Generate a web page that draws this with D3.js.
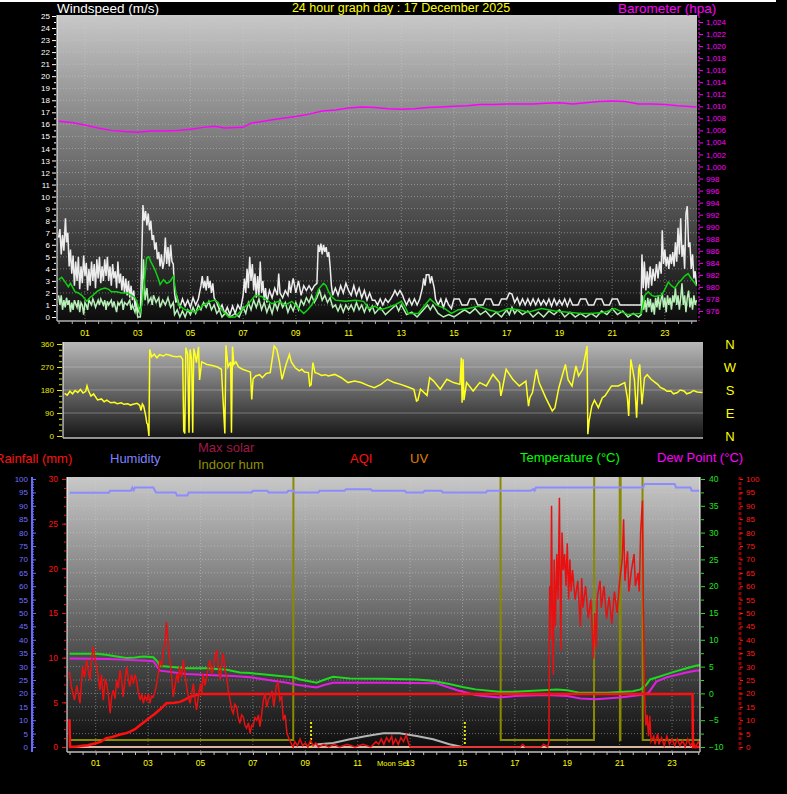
<!DOCTYPE html>
<html>
<head>
<meta charset="utf-8">
<script src="https://cdn.jsdelivr.net/npm/d3@7"></script>
<style>
  html, body { margin: 0; padding: 0; background: #000; }
  svg { display: block; }
  text { font-family: "Liberation Sans", Arial, sans-serif; }
</style>
</head>
<body>
<svg id="chart" width="787" height="794"></svg>
<script>
// ---------- data (hour of day, value) ----------
const hourLabels = ["01","03","05","07","09","11","13","15","17","19","21","23"];
const labelHours = [1,3,5,7,9,11,13,15,17,19,21,23];
const dirLetters = ["N","W","S","E","N"];

const baro = [[0,1007.5],[0.5,1007.3],[1,1006.9],[1.5,1006.4],[2,1006.0],[2.5,1005.8],[3,1005.7],[3.5,1005.9],[4,1005.9],[4.5,1006.0],[5,1006.2],[5.5,1006.5],[5.9,1006.7],[6.3,1006.4],[7,1006.5],[7.3,1007.2],[8,1007.7],[8.5,1008.0],[9,1008.3],[9.5,1008.7],[10,1009.2],[10.5,1009.4],[11,1009.7],[11.5,1009.9],[12,1009.8],[12.5,1009.6],[13,1009.5],[13.5,1009.6],[14,1009.8],[14.5,1009.9],[15,1010.0],[15.5,1010.1],[16,1010.3],[16.5,1010.3],[17,1010.4],[17.5,1010.4],[18,1010.4],[18.5,1010.5],[19,1010.6],[19.5,1010.4],[20,1010.6],[20.5,1010.8],[21,1010.9],[21.5,1010.8],[22,1010.4],[22.5,1010.4],[23,1010.3],[23.5,1010.1],[24.2,1009.9]];

const gust = [[0,6.6],[0.05,7.3],[0.1,5.2],[0.15,6.8],[0.2,5.5],[0.26,8.2],[0.3,6.2],[0.35,7.0],[0.4,4.2],[0.45,5.6],[0.5,3.6],[0.55,5.1],[0.6,2.6],[0.65,4.6],[0.7,3.0],[0.75,5.0],[0.8,2.3],[0.85,4.2],[0.9,2.8],[0.95,5.1],[1.0,3.4],[1.05,4.5],[1.1,2.2],[1.15,4.0],[1.2,2.6],[1.25,4.6],[1.3,3.0],[1.35,4.4],[1.4,2.4],[1.45,4.8],[1.5,3.2],[1.55,5.0],[1.6,2.8],[1.65,4.2],[1.7,3.0],[1.75,4.8],[1.8,3.4],[1.85,5.0],[1.9,3.0],[1.95,4.2],[2.0,2.6],[2.05,4.4],[2.1,3.2],[2.15,3.8],[2.2,2.4],[2.25,4.6],[2.3,2.8],[2.35,3.6],[2.4,2.2],[2.45,3.4],[2.5,2.0],[2.55,3.2],[2.6,1.8],[2.65,3.0],[2.7,1.6],[2.75,2.6],[2.8,1.4],[2.85,2.2],[2.9,0.8],[2.95,1.4],[3.0,0.3],[3.05,0.8],[3.1,0.2],[3.15,4.5],[3.2,9.3],[3.25,8.0],[3.3,8.8],[3.35,7.6],[3.4,8.6],[3.45,7.2],[3.5,8.0],[3.55,6.4],[3.6,6.8],[3.65,5.6],[3.7,6.2],[3.75,4.8],[3.8,5.4],[3.85,4.2],[3.9,5.2],[3.95,4.0],[4.0,4.6],[4.05,6.6],[4.1,4.4],[4.15,5.8],[4.2,4.2],[4.25,6.0],[4.3,4.6],[4.35,4.4],[4.4,2.0],[4.45,1.2],[4.5,1.6],[4.6,0.8],[4.7,1.5],[4.8,0.9],[4.9,1.4],[5.0,0.8],[5.1,1.6],[5.2,1.0],[5.3,1.5],[5.4,2.6],[5.45,3.4],[5.5,2.4],[5.55,3.0],[5.6,2.2],[5.65,3.4],[5.7,2.4],[5.75,3.0],[5.8,2.0],[5.85,2.8],[5.9,1.6],[6.0,1.2],[6.1,0.6],[6.2,1.0],[6.3,0.3],[6.4,0.8],[6.5,0.2],[6.6,0.9],[6.7,0.3],[6.8,1.0],[6.9,0.6],[7.0,1.8],[7.05,3.2],[7.1,2.0],[7.15,4.0],[7.2,2.4],[7.25,5.0],[7.3,3.0],[7.35,4.4],[7.4,2.2],[7.45,3.6],[7.5,1.6],[7.55,3.4],[7.6,1.8],[7.65,4.6],[7.7,2.0],[7.75,3.0],[7.8,1.4],[7.85,2.4],[7.9,1.2],[8.0,2.2],[8.1,1.6],[8.2,2.4],[8.3,1.8],[8.35,3.6],[8.4,2.0],[8.5,1.6],[8.6,2.2],[8.7,1.8],[8.75,3.0],[8.8,2.0],[8.9,3.2],[9.0,2.0],[9.1,3.0],[9.2,1.8],[9.3,2.6],[9.4,2.2],[9.5,2.6],[9.6,2.2],[9.7,2.6],[9.8,2.8],[9.85,6.0],[9.9,5.4],[9.95,6.1],[10.0,5.2],[10.05,6.0],[10.1,5.4],[10.15,5.8],[10.2,5.0],[10.25,5.4],[10.3,4.2],[10.35,2.6],[10.4,1.8],[10.5,2.4],[10.6,1.8],[10.7,2.6],[10.8,2.0],[10.9,2.8],[11.0,2.2],[11.1,1.8],[11.2,2.6],[11.3,1.8],[11.4,2.4],[11.5,1.6],[11.6,2.2],[11.7,1.4],[11.8,2.0],[11.9,1.4],[12.0,1.4],[12.1,1.0],[12.2,1.5],[12.3,1.0],[12.4,1.5],[12.5,1.2],[12.6,1.5],[12.7,1.9],[12.76,2.2],[12.85,1.8],[12.95,2.2],[13.05,1.8],[13.1,1.5],[13.2,1.0],[13.3,1.5],[13.4,1.0],[13.5,1.5],[13.6,1.0],[13.7,1.5],[13.8,2.4],[13.85,3.2],[13.9,2.6],[13.95,3.5],[14.05,3.5],[14.1,2.8],[14.15,3.4],[14.25,2.4],[14.3,1.5],[14.4,1.0],[14.5,1.5],[14.6,0.8],[14.7,1.5],[14.8,1.0],[14.9,0.7],[15.0,1.5],[15.2,1.5],[15.3,1.0],[15.5,1.0],[15.6,1.5],[15.8,1.5],[15.9,1.0],[16.1,1.0],[16.2,1.5],[16.4,1.5],[16.5,1.0],[16.7,1.0],[16.8,1.5],[17.0,1.5],[17.1,2.0],[17.2,1.9],[17.3,1.2],[17.4,1.6],[17.5,1.0],[17.6,1.5],[17.7,1.0],[17.8,1.5],[17.9,1.0],[18.0,1.5],[18.1,1.0],[18.2,1.5],[18.3,1.0],[18.4,1.4],[18.5,1.0],[18.6,1.5],[18.7,0.9],[18.8,1.5],[18.9,1.0],[19.0,1.4],[19.1,1.0],[19.2,1.5],[19.3,0.9],[19.4,1.5],[19.5,1.0],[19.7,1.0],[19.8,1.5],[20.0,1.5],[20.1,1.0],[20.3,1.0],[20.4,1.5],[20.6,1.5],[20.7,1.0],[20.9,1.0],[21.0,1.5],[21.2,1.5],[21.3,1.0],[22.1,1.0],[22.13,5.2],[22.18,2.4],[22.22,4.6],[22.28,2.2],[22.33,3.8],[22.38,2.4],[22.44,4.2],[22.5,2.6],[22.55,4.0],[22.62,3.0],[22.68,4.4],[22.74,3.2],[22.8,4.6],[22.86,3.6],[22.9,7.2],[22.95,4.4],[23.0,5.6],[23.05,4.2],[23.1,5.0],[23.15,4.0],[23.2,5.2],[23.25,4.4],[23.3,5.4],[23.35,4.2],[23.4,6.2],[23.45,4.6],[23.5,7.4],[23.55,5.2],[23.6,8.2],[23.65,5.0],[23.7,6.0],[23.75,4.0],[23.8,8.6],[23.85,9.2],[23.9,5.8],[23.95,6.2],[24.0,4.0],[24.05,5.2],[24.1,3.2],[24.15,3.8],[24.2,2.6]];

const speed = [[0,1.8],[0.05,1.0],[0.1,1.8],[0.15,0.6],[0.2,1.4],[0.25,0.8],[0.3,1.6],[0.35,1.0],[0.4,1.4],[0.45,0.4],[0.5,1.2],[0.55,0.6],[0.6,1.4],[0.7,0.8],[0.75,1.4],[0.8,0.4],[0.85,1.2],[0.9,1.0],[0.95,0.2],[1.0,1.2],[1.05,1.0],[1.1,0.6],[1.15,1.4],[1.25,1.0],[1.3,1.5],[1.35,1.2],[1.4,0.8],[1.5,1.4],[1.55,1.0],[1.6,1.5],[1.7,1.0],[1.75,1.4],[1.8,0.6],[1.85,1.3],[1.9,1.0],[2.0,1.4],[2.05,0.8],[2.1,1.3],[2.2,0.4],[2.25,1.2],[2.3,1.0],[2.4,1.4],[2.45,0.6],[2.5,1.2],[2.6,1.0],[2.7,1.4],[2.75,0.6],[2.8,1.0],[2.9,0.4],[2.95,1.0],[3.0,0.0],[3.1,0.0],[3.15,1.2],[3.22,4.8],[3.28,1.4],[3.35,2.4],[3.4,1.2],[3.5,1.6],[3.55,1.0],[3.6,1.8],[3.7,1.2],[3.8,1.6],[3.85,0.8],[3.95,1.4],[4.05,1.0],[4.15,1.6],[4.25,0.8],[4.35,1.2],[4.4,0.2],[4.5,0.6],[4.6,0.0],[4.7,0.5],[4.8,0.0],[4.9,0.6],[5.0,0.2],[5.1,0.8],[5.2,0.3],[5.3,1.0],[5.4,0.6],[5.5,1.2],[5.6,0.8],[5.7,1.3],[5.8,0.6],[5.9,1.0],[6.0,0.3],[6.1,0.6],[6.2,0.0],[6.35,0.4],[6.5,0.0],[6.7,0.3],[6.85,0.0],[7.0,0.8],[7.1,0.3],[7.2,1.2],[7.3,0.6],[7.4,1.4],[7.5,0.8],[7.6,1.5],[7.7,0.6],[7.8,1.2],[7.9,0.4],[8.0,1.0],[8.1,0.3],[8.2,1.2],[8.3,0.6],[8.4,1.4],[8.5,0.8],[8.6,1.2],[8.7,0.4],[8.8,1.0],[8.9,0.5],[9.0,1.2],[9.1,0.6],[9.2,1.4],[9.3,1.0],[9.4,1.6],[9.5,1.2],[9.6,1.8],[9.7,1.2],[9.8,1.6],[9.9,2.2],[10.0,1.4],[10.1,1.8],[10.2,1.2],[10.3,1.6],[10.4,0.8],[10.5,1.0],[10.6,0.5],[10.7,1.0],[10.8,0.4],[10.9,1.0],[11.0,0.6],[11.1,1.0],[11.2,0.5],[11.3,1.2],[11.4,0.6],[11.5,1.0],[11.6,0.4],[11.7,1.0],[11.8,0.5],[11.9,0.9],[12.0,0.3],[12.2,0.8],[12.4,0.2],[12.6,0.6],[12.8,1.0],[12.9,0.5],[13.0,1.0],[13.2,0.2],[13.4,0.4],[13.6,0.0],[13.8,0.5],[14.0,1.0],[14.1,0.6],[14.2,1.0],[14.4,0.3],[14.6,0.0],[14.8,0.2],[15.0,0.0],[15.2,0.3],[15.4,0.6],[15.6,0.3],[15.8,0.7],[16.0,0.2],[16.2,0.5],[16.4,0.0],[16.6,0.4],[16.8,0.0],[17.0,0.6],[17.1,0.2],[17.2,0.8],[17.3,0.3],[17.4,0.6],[17.6,0.2],[17.8,0.5],[18.0,0.0],[18.2,0.4],[18.4,0.0],[18.6,0.5],[18.8,0.2],[19.0,0.6],[19.2,0.0],[19.4,0.4],[19.6,0.0],[19.8,0.3],[20.0,0.0],[20.2,0.3],[20.4,0.0],[20.6,0.5],[20.8,0.2],[21.0,0.7],[21.2,0.2],[21.4,0.5],[21.6,0.0],[21.8,0.3],[22.0,0.0],[22.1,0.2],[22.15,1.8],[22.2,0.6],[22.25,1.4],[22.3,0.4],[22.35,1.6],[22.4,0.8],[22.45,1.5],[22.5,0.4],[22.55,1.2],[22.6,0.2],[22.65,1.6],[22.7,0.8],[22.75,1.8],[22.8,0.6],[22.85,1.4],[22.9,2.0],[22.95,0.8],[23.0,1.6],[23.05,0.4],[23.1,1.8],[23.15,1.0],[23.2,1.6],[23.25,0.6],[23.3,1.8],[23.35,1.2],[23.4,2.4],[23.45,1.0],[23.5,1.8],[23.55,0.6],[23.6,1.6],[23.65,2.8],[23.7,1.0],[23.75,1.8],[23.8,0.4],[23.85,1.6],[23.9,2.2],[23.95,0.8],[24.0,1.6],[24.05,0.6],[24.1,1.8],[24.15,1.0],[24.2,1.4]];

const avgWind = [[0,3.1],[0.12,3.3],[0.25,2.9],[0.37,2.5],[0.45,2.8],[0.55,2.4],[0.62,2.1],[0.75,2.0],[0.88,1.8],[1.0,1.5],[1.07,1.3],[1.18,1.6],[1.3,1.8],[1.45,2.1],[1.6,2.3],[1.76,2.4],[1.9,2.3],[2.0,2.1],[2.2,2.1],[2.4,2.0],[2.6,2.0],[2.77,1.8],[2.9,1.6],[2.96,1.3],[3.09,0.4],[3.16,1.0],[3.22,2.1],[3.34,4.9],[3.42,5.0],[3.5,4.6],[3.66,3.9],[3.78,3.2],[3.85,2.7],[3.98,3.1],[4.1,2.8],[4.2,2.9],[4.3,3.2],[4.36,3.4],[4.45,2.0],[4.55,1.0],[4.8,0.6],[5.0,0.5],[5.18,0.4],[5.35,0.7],[5.5,1.0],[5.75,1.3],[5.94,1.4],[6.05,1.2],[6.19,0.6],[6.45,0.0],[6.7,0.0],[6.95,0.6],[7.2,1.1],[7.46,1.8],[7.71,1.7],[7.9,1.4],[8.09,1.1],[8.35,1.3],[8.6,1.0],[8.85,1.3],[9.1,0.7],[9.3,0.3],[9.45,0.6],[9.6,1.0],[9.75,1.6],[9.86,2.3],[10.05,2.8],[10.15,2.6],[10.24,2.1],[10.35,1.7],[10.5,1.4],[10.88,1.3],[11.26,1.4],[11.57,1.3],[11.76,0.7],[12.0,0.9],[12.2,0.6],[12.38,0.7],[12.76,1.0],[13.01,1.3],[13.15,0.8],[13.26,0.3],[13.64,0.3],[13.9,1.0],[14.09,1.5],[14.34,1.0],[14.65,0.7],[14.9,0.3],[15.16,0.6],[15.54,0.7],[15.92,0.9],[16.3,0.6],[16.68,0.4],[17.06,0.7],[17.44,0.6],[17.82,0.4],[18.32,0.7],[18.83,0.5],[19.33,0.4],[19.84,0.3],[20.22,0.3],[20.72,0.4],[21.1,0.7],[21.6,0.2],[22.11,0.3],[22.24,1.8],[22.37,2.1],[22.5,1.8],[22.62,1.7],[22.87,1.8],[23.0,2.3],[23.13,2.9],[23.25,2.6],[23.38,2.4],[23.5,2.8],[23.63,3.1],[23.75,3.4],[23.88,3.6],[24.0,3.2],[24.14,2.8],[24.2,2.6]];

const windDir = [[0,167],[0.1,160],[0.2,175],[0.3,165],[0.4,178],[0.5,170],[0.6,182],[0.7,168],[0.8,175],[0.85,196],[0.9,178],[1.0,156],[1.1,165],[1.25,141],[1.4,145],[1.5,134],[1.6,140],[1.75,130],[1.9,132],[2.0,126],[2.15,130],[2.25,124],[2.4,126],[2.5,121],[2.6,124],[2.75,128],[2.85,120],[2.9,100],[2.95,125],[3.0,117],[3.08,78],[3.12,50],[3.15,46],[3.2,0],[3.23,339],[3.3,310],[3.4,320],[3.5,306],[3.6,318],[3.75,313],[3.85,320],[4.0,316],[4.1,312],[4.25,310],[4.4,312],[4.48,300],[4.52,20],[4.56,10],[4.6,345],[4.67,320],[4.72,13],[4.76,339],[4.82,300],[4.86,13],[4.9,342],[4.95,320],[5.0,287],[5.08,349],[5.12,219],[5.2,290],[5.4,280],[5.6,276],[5.8,270],[5.95,261],[6.08,10],[6.12,355],[6.2,270],[6.3,290],[6.33,13],[6.37,350],[6.42,280],[6.5,290],[6.6,270],[6.75,261],[6.95,254],[7.05,250],[7.1,143],[7.15,223],[7.25,235],[7.4,240],[7.5,228],[7.65,245],[7.8,248],[7.95,352],[8.05,339],[8.15,290],[8.25,222],[8.4,280],[8.53,319],[8.6,290],[8.75,267],[8.9,255],[9.0,261],[9.1,250],[9.25,248],[9.3,196],[9.35,200],[9.42,287],[9.5,248],[9.6,245],[9.75,237],[9.9,240],[10.0,235],[10.25,241],[10.5,228],[10.75,209],[11.0,215],[11.25,209],[11.5,198],[11.75,189],[12.0,202],[12.25,222],[12.5,209],[12.75,202],[13.0,193],[13.25,183],[13.35,137],[13.4,140],[13.5,183],[13.75,159],[13.85,228],[14.0,215],[14.25,183],[14.5,222],[14.75,209],[15.0,202],[15.05,306],[15.08,130],[15.12,300],[15.15,140],[15.25,209],[15.5,176],[15.75,209],[16.0,196],[16.25,241],[16.5,209],[16.55,157],[16.6,180],[16.75,261],[17.0,222],[17.25,196],[17.5,215],[17.6,117],[17.65,150],[17.75,170],[17.9,261],[18.0,209],[18.25,150],[18.5,98],[18.6,110],[18.75,189],[19.0,280],[19.1,220],[19.25,196],[19.4,274],[19.5,235],[19.65,260],[19.75,313],[19.82,352],[19.85,7],[19.9,60],[20.0,117],[20.1,140],[20.25,111],[20.4,150],[20.5,157],[20.75,196],[21.0,196],[21.25,209],[21.35,150],[21.4,78],[21.48,300],[21.55,261],[21.62,220],[21.7,72],[21.78,261],[21.82,280],[21.9,124],[22.0,228],[22.1,240],[22.25,222],[22.4,210],[22.5,202],[22.6,190],[22.75,183],[22.85,175],[23.0,176],[23.1,165],[23.25,170],[23.35,180],[23.5,176],[23.6,165],[23.75,170],[23.85,178],[24.0,172],[24.2,170]];

const humidity = [[0,94.9],[1.5,94.9],[1.55,95.6],[2.35,95.6],[2.4,96.8],[2.45,95.8],[2.5,96.8],[3.2,96.8],[3.3,95.0],[4.05,95.0],[4.1,93.8],[4.5,93.8],[4.55,95.0],[6.95,95.0],[7.0,95.6],[7.55,95.6],[7.6,95.0],[8.3,95.0],[8.35,95.6],[8.55,95.6],[8.6,95.0],[9.5,95.0],[9.55,95.6],[10.5,95.6],[10.55,96.2],[11.5,96.2],[11.55,95.6],[12.8,95.6],[12.85,95.0],[13.5,95.0],[13.55,95.6],[14.2,95.6],[14.25,95.0],[15.9,95.0],[15.95,95.6],[17.6,95.6],[17.7,96.2],[17.75,95.6],[17.8,96.8],[21.9,96.8],[21.95,98.1],[23.1,98.1],[23.15,96.8],[23.7,96.8],[23.75,95.6],[24.2,95.6]];

const temperature = [[0,7.4],[1.04,7.4],[1.4,7.2],[1.8,6.9],[2.18,6.6],[2.5,6.7],[2.82,6.9],[3.2,6.75],[3.35,6.0],[3.45,5.1],[3.7,5.0],[4.47,4.7],[5.24,4.7],[6.0,4.4],[6.5,3.9],[6.9,3.8],[7.27,3.6],[8.03,3.25],[8.54,3.0],[8.8,2.6],[9.1,2.3],[9.43,2.0],[9.75,2.6],[10.06,3.1],[10.7,2.8],[11.97,2.75],[13.25,2.6],[13.76,2.4],[14.5,1.75],[15.0,1.2],[15.5,0.75],[16.4,0.3],[17.0,0.3],[17.7,0.5],[18.6,0.75],[19.0,0.6],[19.5,0.1],[20.5,0.1],[21.0,0.25],[21.5,0.4],[21.8,0.75],[22.0,1.5],[22.16,2.6],[22.5,3.1],[22.8,3.6],[23.2,4.2],[23.55,4.7],[23.94,5.2],[24.2,5.3]];

const dewPoint = [[0,6.5],[1.5,6.4],[2.95,6.1],[3.2,6.0],[3.45,4.25],[4.47,3.6],[5.5,3.4],[6.25,3.25],[6.9,3.0],[7.27,2.75],[8.3,2.0],[8.8,1.5],[9.43,1.1],[9.75,1.6],[10.06,2.0],[11.97,2.0],[14.0,1.9],[14.8,0.6],[15.5,-0.3],[15.8,-0.5],[16.4,-0.75],[17.0,-0.5],[18.2,-0.3],[19.0,-0.5],[19.5,-0.95],[20.1,-1.1],[21.0,-0.75],[21.8,-0.3],[22.1,0.1],[22.4,2.2],[22.8,3.0],[23.55,3.9],[23.94,4.25],[24.2,4.3]];

const rainfall = [[0,3.1],[0.02,0],[0.3,0.05],[0.5,0.15],[0.7,0.2],[1.0,0.41],[1.2,0.6],[1.4,1.0],[1.6,1.1],[1.93,1.4],[2.1,1.5],[2.3,1.7],[2.5,2.0],[2.7,2.46],[2.9,2.9],[3.07,3.3],[3.25,3.7],[3.45,4.2],[3.6,4.6],[3.7,4.9],[4.0,4.95],[4.22,5.05],[4.4,5.3],[4.6,5.6],[4.8,5.8],[5.0,5.93],[23.78,5.93],[23.8,0],[24.2,0]];

const aqi = [[0,28],[0.07,22.5],[0.19,17.5],[0.28,23],[0.4,16.3],[0.5,30],[0.58,26],[0.65,32.5],[0.78,25],[0.85,33],[0.9,37.5],[0.97,33],[1.04,30],[1.1,26],[1.16,21.2],[1.22,27],[1.29,17.5],[1.36,25],[1.42,23.7],[1.5,18],[1.55,12.6],[1.61,19],[1.67,21.2],[1.74,18],[1.8,25],[1.86,22],[1.93,28.7],[2.0,24],[2.05,18.7],[2.12,25],[2.18,30],[2.24,26],[2.3,22.5],[2.37,27],[2.44,23.7],[2.5,27],[2.56,25],[2.63,20],[2.7,17.5],[2.76,20],[2.82,16.3],[2.88,19],[2.95,17.5],[3.01,20],[3.07,16.3],[3.13,19],[3.2,18.7],[3.27,21],[3.33,23.7],[3.4,28],[3.45,32.5],[3.52,30],[3.58,36.2],[3.65,38.7],[3.7,46.6],[3.74,42],[3.77,37.5],[3.83,32.5],[3.9,26],[3.96,18.7],[4.03,23],[4.1,27.4],[4.15,24],[4.2,30],[4.28,26],[4.35,32.5],[4.41,27],[4.47,22.5],[4.53,19],[4.6,16.3],[4.67,20],[4.73,23.7],[4.8,17],[4.85,13.8],[4.92,19],[5.0,23.7],[5.05,20],[5.1,27.4],[5.17,23],[5.24,26.2],[5.3,30],[5.36,32.5],[5.43,27],[5.5,30],[5.56,34],[5.62,36.2],[5.68,30],[5.75,25],[5.81,31],[5.87,35],[5.93,29],[6.0,26.2],[6.06,21],[6.13,17.5],[6.19,14],[6.25,12.6],[6.31,16],[6.38,15],[6.44,11],[6.5,8.8],[6.57,12],[6.63,11.3],[6.7,8],[6.76,7],[6.83,9],[6.89,5.1],[6.95,8],[7.0,7.6],[7.08,11],[7.15,10],[7.21,12],[7.27,7.6],[7.33,12],[7.4,17.5],[7.46,20],[7.53,15],[7.6,18],[7.66,18.7],[7.73,21],[7.8,15],[7.86,20],[7.9,23],[7.96,24],[8.03,17.5],[8.1,19],[8.16,10],[8.23,12],[8.3,5.1],[8.4,2.6],[8.48,1],[8.54,0],[8.6,2],[8.7,0.5],[8.8,3],[8.9,0.5],[9.0,1.5],[9.1,0],[9.2,2.5],[9.3,0.5],[9.4,1.5],[9.5,0],[9.7,1],[9.9,0],[10.1,1],[10.3,0],[10.6,1],[10.9,0],[11.2,1],[11.5,0],[11.7,2],[11.8,1],[11.9,3],[12.0,1],[12.1,3.5],[12.2,2],[12.3,4],[12.35,1],[12.45,3],[12.55,1],[12.65,3.5],[12.75,2],[12.85,4.5],[12.92,2],[13.0,0],[17.2,0],[17.3,1],[17.4,0],[18.0,0],[18.1,1],[18.25,0],[18.3,2],[18.33,60],[18.36,40],[18.4,90],[18.43,50],[18.47,27],[18.5,70],[18.55,45],[18.6,72],[18.65,55],[18.7,93],[18.75,36],[18.8,80],[18.85,66],[18.9,72],[18.95,60],[19.0,76],[19.05,55],[19.1,70],[19.15,58],[19.2,66],[19.3,55],[19.4,62],[19.5,45],[19.55,63],[19.6,52],[19.7,60],[19.8,48],[19.9,55],[20.0,33],[20.05,50],[20.1,37],[20.15,56],[20.25,62],[20.3,52],[20.4,60],[20.5,48],[20.6,56],[20.7,46],[20.8,58],[20.9,50],[21.0,62],[21.1,70],[21.15,85],[21.2,62],[21.3,73],[21.35,58],[21.45,66],[21.55,72],[21.6,60],[21.7,65],[21.75,58],[21.8,80],[21.87,92],[21.9,56],[21.95,20],[22.0,8],[22.05,12],[22.1,4],[22.15,11.6],[22.2,2],[22.3,4],[22.35,1],[22.45,5],[22.5,1],[22.6,3.5],[22.7,0.5],[22.8,4],[22.9,1],[23.0,3],[23.1,0.5],[23.2,3],[23.3,0.5],[23.4,2.5],[23.5,0],[23.6,3],[23.7,0.5],[23.8,2],[23.9,0],[24.0,2],[24.1,0]];

const indoorHum = [[0,2.6],[8.54,2.6],[8.55,130],[16.45,130],[16.46,2.6],[20.02,2.6],[20.03,130],[21.0,130],[21.01,2.6],[21.03,2.6],[21.04,130],[21.87,130],[21.88,2.6],[24.2,2.6]];
const maxSolar = [[9.18,0],[9.5,10],[10.06,15],[10.7,29],[11.34,41],[11.98,51],[12.6,51],[13.25,41],[13.88,29],[14.5,10],[15.0,0]];
const uvIndex = [[0,0],[24.2,0]];
const sunEvents = [9.22, 15.09];
const moonSetHour = 12.35;

// ---------- setup ----------
const svg = d3.select("#chart");
const defs = svg.append("defs");
const FONT = "'Liberation Sans', Arial, sans-serif";

function gradient(id, c0, c1) {
  const g = defs.append("linearGradient").attr("id", id)
    .attr("x1", 0).attr("y1", 0).attr("x2", 0).attr("y2", 1);
  g.append("stop").attr("offset", "0%").attr("stop-color", c0);
  g.append("stop").attr("offset", "100%").attr("stop-color", c1);
}
function clip(id, r) {
  defs.append("clipPath").attr("id", id).append("rect")
    .attr("x", r.x).attr("y", r.y).attr("width", r.w).attr("height", r.h);
}
function styleAxis(g, color, size) {
  g.attr("font-family", FONT).attr("font-size", size);
  g.select(".domain").remove();
  g.selectAll(".tick line").attr("stroke", color);
  g.selectAll(".tick text").attr("fill", color);
}
function label(txt, x, y, color, size, anchor) {
  return svg.append("text").attr("x", x).attr("y", y).attr("fill", color)
    .attr("font-size", size).attr("font-family", FONT)
    .attr("text-anchor", anchor || "start").text(txt);
}
const lineOf = (x, y) => d3.line().x(d => x(d[0])).y(d => y(d[1]));

svg.append("rect").attr("x", 0).attr("y", 0).attr("width", 776).attr("height", 2).attr("fill", "#fff");

// ---------- top panel: wind + barometer ----------
const P1 = {x: 57, y: 15, w: 640, h: 306};
gradient("bg1", "#c8c8c8", "#0c0c0c");
clip("c1", P1);
const x1 = d3.scaleLinear().domain([0, 24.2]).range([58.6, 696.5]);
const yWind = d3.scaleLinear().domain([0, 25]).range([317, 16]);
const yBaro = d3.scaleLinear().domain([975, 1025]).range([317, 16]);

svg.append("rect").attr("x", P1.x).attr("y", P1.y).attr("width", P1.w).attr("height", P1.h).attr("fill", "url(#bg1)");
const g1 = svg.append("g").attr("clip-path", "url(#c1)");
g1.selectAll(".hg").data(d3.range(1, 26)).join("line")
  .attr("x1", P1.x).attr("x2", P1.x + P1.w).attr("y1", d => yWind(d)).attr("y2", d => yWind(d))
  .attr("stroke", "#d0d0d0").attr("stroke-opacity", 0.45).attr("stroke-dasharray", "1,2");
g1.selectAll(".vg").data(labelHours).join("line")
  .attr("x1", d => x1(d)).attr("x2", d => x1(d)).attr("y1", P1.y).attr("y2", P1.y + P1.h)
  .attr("stroke", "#d0d0d0").attr("stroke-opacity", 0.45).attr("stroke-dasharray", "1,2");

g1.append("path").datum(baro).attr("d", lineOf(x1, yBaro)).attr("fill", "none").attr("stroke", "#ff00ff").attr("stroke-width", 1.5);
g1.append("path").datum(gust).attr("d", lineOf(x1, yWind)).attr("fill", "none").attr("stroke", "#ececec").attr("stroke-width", 1.5);
g1.append("path").datum(speed).attr("d", lineOf(x1, yWind)).attr("fill", "none").attr("stroke", "#b8f0b8").attr("stroke-width", 1.5);
g1.append("path").datum(avgWind).attr("d", lineOf(x1, yWind)).attr("fill", "none").attr("stroke", "#10d010").attr("stroke-width", 1.5);

svg.append("line").attr("x1", P1.x).attr("x2", P1.x).attr("y1", P1.y).attr("y2", P1.y + P1.h).attr("stroke", "#fff");
svg.append("line").attr("x1", P1.x).attr("x2", P1.x + P1.w).attr("y1", 321).attr("y2", 321).attr("stroke", "#b0b0b0").attr("stroke-width", 1.5);

styleAxis(svg.append("g").attr("transform", "translate(56,0)")
  .call(d3.axisLeft(yWind).tickValues(d3.range(0, 26)).tickSize(4).tickPadding(2)), "#fff", 8);
styleAxis(svg.append("g").attr("transform", "translate(56,0)")
  .call(d3.axisLeft(yWind).tickValues(d3.range(0.5, 25, 1)).tickSize(2).tickFormat("")), "#fff", 8);
svg.append("line").attr("x1", 699).attr("x2", 699).attr("y1", 16).attr("y2", 321)
  .attr("stroke", "#ff00ff").attr("stroke-dasharray", "2,2");
styleAxis(svg.append("g").attr("transform", "translate(699,0)")
  .call(d3.axisRight(yBaro).tickValues(d3.range(976, 1025, 2)).tickSize(4).tickPadding(3)), "#ff00ff", 8);
styleAxis(svg.append("g").attr("transform", "translate(0,321)")
  .call(d3.axisBottom(x1).tickValues(d3.range(0, 24.21, 0.5)).tickSize(3).tickFormat("")), "#b0b0b0", 8);
labelHours.forEach((h, i) => label(hourLabels[i], x1(h), 336, "#ffff00", 8.5, "middle"));

label("Windspeed (m/s)", 57, 13, "#ffffff", 13.5);
label("24 hour graph day : 17 December 2025", 401, 12, "#ffff00", 12.5, "middle");
label("Barometer (hpa)", 618, 13, "#ff00ff", 13.5);

// ---------- middle panel: wind direction ----------
const P2 = {x: 63, y: 342, w: 640, h: 96};
gradient("bg2", "#b8b8b8", "#161616");
clip("c2", P2);
const x2 = d3.scaleLinear().domain([0, 24.2]).range([64.6, 702.5]);
const yDir = d3.scaleLinear().domain([0, 360]).range([436, 344]);
svg.append("rect").attr("x", P2.x).attr("y", P2.y).attr("width", P2.w).attr("height", P2.h).attr("fill", "url(#bg2)");
const g2 = svg.append("g").attr("clip-path", "url(#c2)");
g2.selectAll(".hg").data([90, 180, 270]).join("line")
  .attr("x1", P2.x).attr("x2", P2.x + P2.w).attr("y1", d => yDir(d)).attr("y2", d => yDir(d))
  .attr("stroke", "#e0e0e0").attr("stroke-opacity", 0.35);
g2.append("path").datum(windDir).attr("d", lineOf(x2, yDir)).attr("fill", "none").attr("stroke", "#ffff20").attr("stroke-width", 1.5);
svg.append("line").attr("x1", P2.x).attr("x2", P2.x).attr("y1", P2.y).attr("y2", P2.y + P2.h).attr("stroke", "#fff");
svg.append("line").attr("x1", P2.x).attr("x2", P2.x + P2.w).attr("y1", 438).attr("y2", 438).attr("stroke", "#c0c0c0").attr("stroke-width", 1.5);
styleAxis(svg.append("g").attr("transform", "translate(62,0)")
  .call(d3.axisLeft(yDir).tickValues([0, 90, 180, 270, 360]).tickSize(5).tickPadding(3)), "#e8e800", 8);
styleAxis(svg.append("g").attr("transform", "translate(62,0)")
  .call(d3.axisLeft(yDir).tickValues(d3.range(22.5, 360, 22.5)).tickSize(3).tickFormat("")), "#e8e800", 8);
dirLetters.forEach((l, i) => label(l, 730, yDir(360 - i * 90) + 5, "#ffff00", 13, "middle"));

// ---------- bottom panel ----------
const P3 = {x: 67, y: 477, w: 633, h: 275};
gradient("bg3", "#c8c8c8", "#0a0a0a");
clip("c3", P3);
const x3 = d3.scaleLinear().domain([0, 24.2]).range([69.5, 703.5]);
const yHum = d3.scaleLinear().domain([0, 100]).range([747, 479]);
const yTemp = d3.scaleLinear().domain([-10, 40]).range([747, 479]);
const yRain = d3.scaleLinear().domain([0, 30]).range([747, 479]);
const yAqi = d3.scaleLinear().domain([0, 100]).range([747, 479]);
const ySolar = d3.scaleLinear().domain([0, 1000]).range([747, 479]);

svg.append("rect").attr("x", P3.x).attr("y", P3.y).attr("width", P3.w).attr("height", P3.h).attr("fill", "url(#bg3)");
const g3 = svg.append("g").attr("clip-path", "url(#c3)");
g3.selectAll(".hg").data(d3.range(5, 101, 5)).join("line")
  .attr("x1", P3.x).attr("x2", P3.x + P3.w).attr("y1", d => yHum(d)).attr("y2", d => yHum(d))
  .attr("stroke", "#d0d0d0").attr("stroke-opacity", 0.45).attr("stroke-dasharray", "1,2");
g3.selectAll(".vg").data(labelHours).join("line")
  .attr("x1", d => x3(d)).attr("x2", d => x3(d)).attr("y1", P3.y).attr("y2", P3.y + P3.h)
  .attr("stroke", "#d0d0d0").attr("stroke-opacity", 0.45).attr("stroke-dasharray", "1,2");

g3.append("path").datum(maxSolar).attr("d", lineOf(x3, ySolar)).attr("fill", "none").attr("stroke", "#b4b4b4").attr("stroke-width", 2);
g3.append("path").datum(uvIndex).attr("d", lineOf(x3, yRain)).attr("fill", "none").attr("stroke", "#dcb4a0").attr("stroke-width", 2);
g3.selectAll(".sun").data(sunEvents).join("line")
  .attr("x1", d => x3(d)).attr("x2", d => x3(d)).attr("y1", 722).attr("y2", 747)
  .attr("stroke", "#e8e800").attr("stroke-width", 2).attr("stroke-dasharray", "2,2");
g3.append("path").datum(indoorHum).attr("d", lineOf(x3, yHum)).attr("fill", "none").attr("stroke", "#8a8a00").attr("stroke-width", 2);
g3.append("path").datum(humidity).attr("d", lineOf(x3, yHum)).attr("fill", "none").attr("stroke", "#8c8cff").attr("stroke-width", 2);
g3.append("path").datum(temperature).attr("d", lineOf(x3, yTemp)).attr("fill", "none").attr("stroke", "#20d820").attr("stroke-width", 2);
g3.append("path").datum(dewPoint).attr("d", lineOf(x3, yTemp)).attr("fill", "none").attr("stroke", "#e020e0").attr("stroke-width", 2);
g3.append("path").datum(rainfall).attr("d", lineOf(x3, yRain)).attr("fill", "none").attr("stroke", "#ff1010").attr("stroke-width", 2.5);
g3.append("path").datum(aqi).attr("d", lineOf(x3, yAqi)).attr("fill", "none").attr("stroke", "#e81010").attr("stroke-width", 1.5);

svg.append("line").attr("x1", P3.x).attr("x2", P3.x).attr("y1", P3.y).attr("y2", P3.y + P3.h).attr("stroke", "#fff");
svg.append("line").attr("x1", 700).attr("x2", 700).attr("y1", P3.y).attr("y2", P3.y + P3.h).attr("stroke", "#fff");
svg.append("line").attr("x1", P3.x).attr("x2", 700).attr("y1", 752).attr("y2", 752).attr("stroke", "#c0c0c0").attr("stroke-width", 1.5);
styleAxis(svg.append("g").attr("transform", "translate(0,752)")
  .call(d3.axisBottom(x3).tickValues(d3.range(0, 24.21, 0.5)).tickSize(3).tickFormat("")), "#c0c0c0", 8);
labelHours.forEach((h, i) => label(hourLabels[i], x3(h), 766, "#ffff00", 8.5, "middle"));
// the original prints "Moon Set" right on top of the 13 label
label("Moon Set", x3(moonSetHour), 766, "#ffff00", 7.5, "middle");

// humidity axis (left, blue)
svg.append("line").attr("x1", 32).attr("x2", 32).attr("y1", 477).attr("y2", 752).attr("stroke", "#6a6aff").attr("stroke-width", 2);
styleAxis(svg.append("g").attr("transform", "translate(32,0)")
  .call(d3.axisRight(yHum).tickValues(d3.range(0, 101, 5)).tickSize(4).tickFormat("")), "#6a6aff", 8);
styleAxis(svg.append("g").attr("transform", "translate(32,0)")
  .call(d3.axisRight(yHum).tickValues(d3.range(0, 101, 1)).tickSize(2).tickFormat("")), "#6a6aff", 8);
svg.append("g").selectAll("text").data(d3.range(0, 101, 5)).join("text")
  .attr("x", 28).attr("y", d => yHum(d) + 3).attr("text-anchor", "end")
  .attr("fill", "#7070ff").attr("font-size", 8).attr("font-family", FONT).text(d => d);
// rainfall axis (left, red)
styleAxis(svg.append("g").attr("transform", "translate(66,0)")
  .call(d3.axisLeft(yRain).tickValues(d3.range(0, 31, 5)).tickSize(4).tickPadding(4)), "#ff1010", 8.5);
styleAxis(svg.append("g").attr("transform", "translate(66,0)")
  .call(d3.axisLeft(yRain).tickValues(d3.range(0, 31, 1)).tickSize(2).tickFormat("")), "#ff1010", 8);
// temperature axis (right, green)
styleAxis(svg.append("g").attr("transform", "translate(701,0)")
  .call(d3.axisRight(yTemp).tickValues(d3.range(-10, 41, 5)).tickSize(4).tickPadding(4)), "#20e020", 8.5);
styleAxis(svg.append("g").attr("transform", "translate(701,0)")
  .call(d3.axisRight(yTemp).tickValues(d3.range(-7.5, 40, 5)).tickSize(3).tickFormat("")), "#20e020", 8);
// AQI axis (far right, dark red)
svg.append("line").attr("x1", 740).attr("x2", 740).attr("y1", 477).attr("y2", 752)
  .attr("stroke", "#900000").attr("stroke-width", 3).attr("stroke-dasharray", "3,2");
styleAxis(svg.append("g").attr("transform", "translate(740,0)")
  .call(d3.axisRight(yAqi).tickValues(d3.range(0, 101, 5)).tickSize(3).tickPadding(3)), "#ff1a1a", 8);

// legend texts (Rainfall starts off the left edge, as in the original)
label("Rainfall (mm)", -5, 463, "#ff1010", 13);
label("Humidity", 110, 463, "#8080ff", 13);
label("Max solar", 198, 452, "#a01848", 13);
label("Indoor hum", 198, 469, "#909000", 13);
label("AQI", 350, 463, "#ff1010", 13);
label("UV", 410, 463, "#e08000", 13);
label("Temperature (°C)", 520, 462, "#00ff00", 13);
label("Dew Point (°C)", 657, 462, "#ff00ff", 13);
</script>
</body>
</html>
